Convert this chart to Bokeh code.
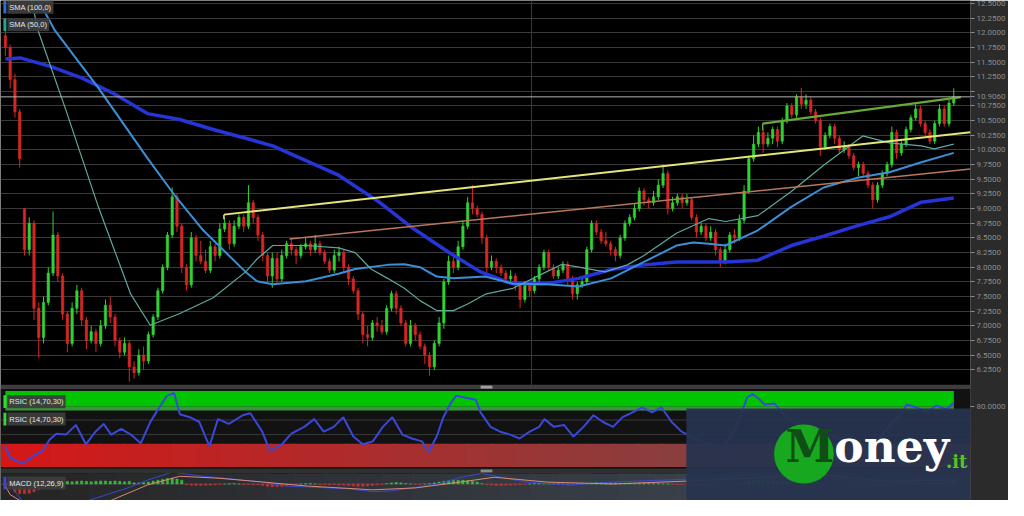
from bokeh.plotting import figure
from bokeh.models import Range1d, FixedTicker, NumeralTickFormatter, ColumnDataSource, BoxAnnotation, Label, Span
from bokeh.embed import file_html
from bokeh.resources import INLINE

# ---------------- data ----------------
opens = [11.95, 11.75, 11.2, 10.65, 9.0, 8.3, 8.75, 7.3, 6.8, 7.4,
         7.9, 8.55, 7.85, 7.2, 6.7, 7.3, 7.6, 7.1, 6.75, 6.9,
         6.7, 7.0, 7.35, 7.15, 6.75, 6.55, 6.7, 6.3, 6.2, 6.5,
         6.4, 6.85, 7.15, 7.6, 8.0, 8.55, 9.2, 8.7, 8.0, 7.7,
         8.5, 8.2, 8.1, 7.95, 8.35, 8.2, 8.65, 8.75, 8.4, 8.7,
         8.85, 8.7, 9.1, 8.85, 8.55, 8.2, 7.85, 8.15, 7.8, 8.2,
         8.4, 8.3, 8.2, 8.35, 8.4, 8.3, 8.4, 8.25, 8.1, 7.95,
         8.2, 8.25, 8.0, 7.8, 7.6, 7.2, 6.85, 6.8, 7.05, 7.0,
         6.9, 7.3, 7.55, 7.3, 7.05, 6.7, 7.0, 6.85, 6.65, 6.5,
         6.3, 6.7, 7.05, 7.75, 8.1, 8.0, 8.35, 8.7, 9.1, 9.0,
         8.9, 8.5, 8.0, 8.1, 8.0, 7.9, 7.8, 7.85, 7.7, 7.45,
         7.7, 7.6, 7.8, 8.0, 8.25, 8.0, 7.85, 7.95, 8.05, 7.8,
         7.55, 7.7, 7.75, 8.3, 8.75, 8.6, 8.45, 8.4, 8.3, 8.2,
         8.5, 8.75, 8.85, 9.0, 9.3, 9.15, 9.1, 9.2, 9.4, 9.6,
         9.0, 9.1, 9.2, 9.1, 9.15, 8.85, 8.6, 8.7, 8.5, 8.6,
         8.3, 8.1, 8.3, 8.55, 8.5, 8.8, 9.3, 9.85, 10.1, 10.3,
         10.1, 10.2, 10.35, 10.15, 10.5, 10.75, 10.6, 10.9, 10.78, 10.85,
         10.65, 10.5, 10.05, 10.25, 10.4, 10.2, 10.0, 10.05, 9.9, 9.7,
         9.75, 9.6, 9.4, 9.15, 9.4, 9.6, 9.75, 10.3, 9.95, 10.1,
         10.35, 10.55, 10.7, 10.45, 10.3, 10.15, 10.45, 10.7, 10.45, 10.8]
highs = [12.2, 11.8, 11.3, 10.7, 9.0, 8.85, 8.8, 7.4, 7.5, 8.0,
         8.95, 8.6, 7.9, 7.25, 7.4, 7.7, 7.65, 7.15, 7.0, 6.95,
         7.1, 7.45, 7.5, 7.2, 6.8, 6.8, 6.75, 6.4, 6.6, 6.65,
         6.9, 7.2, 7.65, 8.05, 8.6, 9.36, 9.25, 8.75, 8.05, 8.6,
         8.55, 8.45, 8.3, 8.45, 8.4, 8.75, 8.85, 8.8, 8.8, 8.9,
         8.9, 9.4, 9.15, 8.9, 8.6, 8.25, 8.25, 8.25, 8.3, 8.45,
         8.5, 8.35, 8.4, 8.5, 8.45, 8.55, 8.45, 8.3, 8.15, 8.3,
         8.35, 8.3, 8.05, 7.85, 7.65, 7.25, 7.0, 7.1, 7.15, 7.1,
         7.35, 7.6, 7.6, 7.35, 7.1, 7.1, 7.05, 6.9, 6.7, 6.55,
         6.75, 7.15, 7.8, 8.2, 8.2, 8.45, 8.8, 9.2, 9.4, 9.05,
         8.95, 8.55, 8.2, 8.15, 8.05, 7.95, 7.95, 7.9, 7.75, 7.75,
         7.75, 7.85, 8.05, 8.3, 8.3, 8.05, 8.0, 8.1, 8.1, 7.85,
         7.75, 7.8, 8.35, 8.8, 8.8, 8.65, 8.6, 8.45, 8.35, 8.55,
         8.8, 8.9, 9.08, 9.36, 9.35, 9.2, 9.3, 9.5, 9.75, 9.65,
         9.2, 9.25, 9.25, 9.25, 9.2, 8.9, 8.75, 8.75, 8.7, 8.65,
         8.35, 8.4, 8.6, 8.65, 8.9, 9.4, 9.9, 10.25, 10.4, 10.35,
         10.3, 10.4, 10.4, 10.55, 10.8, 10.8, 10.95, 11.06, 10.95, 10.9,
         10.7, 10.55, 10.3, 10.45, 10.45, 10.25, 10.15, 10.1, 9.95, 9.8,
         9.8, 9.65, 9.45, 9.45, 9.65, 9.8, 10.4, 10.35, 10.15, 10.4,
         10.6, 10.78, 10.75, 10.5, 10.35, 10.5, 10.78, 10.75, 10.85, 11.05]
lows = [11.6, 11.05, 10.55, 9.7, 8.2, 8.2, 7.1, 6.45, 6.7, 7.35,
        7.85, 7.75, 7.1, 6.55, 6.65, 7.2, 7.0, 6.6, 6.7, 6.55,
        6.65, 6.95, 7.05, 6.65, 6.45, 6.5, 6.05, 6.1, 6.15, 6.25,
        6.35, 6.8, 7.1, 7.55, 7.95, 8.5, 8.6, 7.9, 7.6, 7.65,
        8.1, 8.05, 7.9, 7.9, 8.1, 8.15, 8.6, 8.3, 8.35, 8.65,
        8.6, 8.65, 8.75, 8.45, 8.1, 7.75, 7.65, 7.7, 7.75, 8.15,
        8.2, 8.05, 8.15, 8.3, 8.2, 8.25, 8.2, 8.05, 7.9, 7.9,
        8.1, 7.9, 7.7, 7.55, 7.1, 6.7, 6.65, 6.75, 6.9, 6.85,
        6.85, 7.25, 7.2, 7.0, 6.65, 6.65, 6.75, 6.6, 6.35, 6.15,
        6.25, 6.65, 6.95, 7.7, 7.9, 7.95, 8.3, 8.65, 8.9, 8.85,
        8.4, 7.9, 7.95, 7.9, 7.85, 7.75, 7.75, 7.6, 7.3, 7.4,
        7.5, 7.55, 7.75, 7.95, 7.95, 7.8, 7.8, 7.9, 7.7, 7.45,
        7.45, 7.65, 7.7, 8.25, 8.55, 8.4, 8.35, 8.2, 8.1, 8.15,
        8.45, 8.7, 8.8, 8.95, 9.05, 9.0, 9.05, 9.15, 9.35, 8.9,
        8.95, 9.05, 9.0, 9.05, 8.8, 8.5, 8.55, 8.45, 8.45, 8.2,
        8.0, 8.05, 8.25, 8.4, 8.45, 8.75, 9.25, 9.8, 10.05, 9.95,
        10.05, 10.1, 10.05, 10.1, 10.45, 10.55, 10.55, 10.7, 10.7, 10.6,
        10.45, 9.9, 10.0, 10.2, 10.1, 9.95, 9.95, 9.85, 9.65, 9.55,
        9.55, 9.35, 9.0, 9.1, 9.35, 9.55, 9.7, 9.85, 9.9, 10.05,
        10.3, 10.5, 10.4, 10.25, 10.1, 10.1, 10.4, 10.4, 10.4, 10.75]
closes = [11.75, 11.2, 10.65, 9.85, 8.3, 8.75, 7.3, 6.8, 7.4, 7.9,
          8.55, 7.85, 7.2, 6.7, 7.3, 7.6, 7.1, 6.75, 6.9, 6.7,
          7.0, 7.35, 7.15, 6.75, 6.55, 6.7, 6.3, 6.2, 6.5, 6.4,
          6.85, 7.15, 7.6, 8.0, 8.55, 9.2, 8.7, 8.0, 7.7, 8.5,
          8.2, 8.1, 7.95, 8.35, 8.2, 8.65, 8.75, 8.4, 8.7, 8.85,
          8.7, 9.1, 8.85, 8.55, 8.2, 7.85, 8.15, 7.8, 8.2, 8.4,
          8.3, 8.2, 8.35, 8.4, 8.3, 8.4, 8.25, 8.1, 7.95, 8.2,
          8.25, 8.0, 7.8, 7.6, 7.2, 6.85, 6.8, 7.05, 7.0, 6.9,
          7.3, 7.55, 7.3, 7.05, 6.7, 7.0, 6.85, 6.65, 6.5, 6.3,
          6.7, 7.05, 7.75, 8.1, 8.0, 8.35, 8.7, 9.1, 9.0, 8.9,
          8.5, 8.0, 8.1, 8.0, 7.9, 7.8, 7.85, 7.7, 7.45, 7.7,
          7.6, 7.8, 8.0, 8.25, 8.0, 7.85, 7.95, 8.05, 7.8, 7.55,
          7.7, 7.75, 8.3, 8.75, 8.6, 8.45, 8.4, 8.3, 8.2, 8.5,
          8.75, 8.85, 9.0, 9.3, 9.15, 9.1, 9.2, 9.4, 9.6, 9.0,
          9.1, 9.2, 9.1, 9.15, 8.85, 8.6, 8.7, 8.5, 8.6, 8.3,
          8.1, 8.3, 8.55, 8.5, 8.8, 9.3, 9.85, 10.1, 10.3, 10.1,
          10.2, 10.35, 10.15, 10.5, 10.75, 10.6, 10.9, 10.78, 10.85, 10.65,
          10.5, 10.05, 10.25, 10.4, 10.2, 10.0, 10.05, 9.9, 9.7, 9.75,
          9.6, 9.4, 9.15, 9.4, 9.6, 9.75, 10.3, 9.95, 10.1, 10.35,
          10.55, 10.7, 10.45, 10.3, 10.15, 10.45, 10.7, 10.45, 10.8, 10.91]

# moving averages (candle position, price)
sma_slow_x = [0, 3.1, 9.25, 16.0, 23.0, 29.8, 36.6, 43.6, 50.4, 56.1, 69.9, 78.1, 84.9, 93.1, 99.7,
              106.3, 113.5, 120.3, 127.1, 134.0, 140.8, 151.1, 157.9, 164.9, 171.7, 178.5, 185.5, 192.2, 199.0]
sma_slow_y = [11.55, 11.57, 11.43, 11.23, 10.95, 10.62, 10.52, 10.35, 10.20, 10.07, 9.57, 9.13, 8.70, 8.25, 7.92,
              7.72, 7.72, 7.81, 7.96, 8.04, 8.09, 8.09, 8.12, 8.37, 8.53, 8.70, 8.86, 9.11, 9.18]
sma_mid_x = [6.6, 10.3, 19.5, 29.8, 35.4, 41.5, 50.4, 52.8, 56.1, 63.1, 69.9, 73.4, 80.2, 83.7, 87.0, 90.5,
             94.0, 100.7, 106.5, 113.5, 120.3, 127.1, 134.0, 140.8, 144.3, 147.6, 151.1, 157.9, 164.9, 171.7,
             178.5, 185.5, 192.2, 199.0]
sma_mid_y = [12.6, 12.05, 11.06, 9.86, 9.24, 8.63, 7.92, 7.76, 7.71, 7.76, 7.89, 7.97, 8.04, 8.05, 8.00, 7.84,
             7.81, 7.84, 7.72, 7.71, 7.67, 7.81, 8.09, 8.37, 8.42, 8.40, 8.37, 8.63, 9.03, 9.36,
             9.52, 9.62, 9.79, 9.95]
sma_fast_x = [5.1, 6.8, 12.7, 19.5, 26.3, 30.4, 36.6, 43.6, 50.4, 52.8, 56.1, 63.1, 69.9, 73.4, 76.7, 80.2,
              83.7, 87.0, 90.5, 94.0, 97.2, 100.7, 106.5, 113.5, 116.8, 120.3, 125.8, 130.5, 134.0, 140.8,
              147.6, 151.1, 157.9, 164.9, 171.7, 179.9, 185.5, 192.2, 194.9, 199.0]
sma_fast_y = [12.71, 12.05, 10.68, 9.03, 7.54, 7.01, 7.21, 7.48, 7.92, 8.14, 8.37, 8.37, 8.33, 8.25, 7.97, 7.81,
              7.64, 7.43, 7.26, 7.26, 7.38, 7.54, 7.64, 7.92, 8.05, 8.00, 7.92, 8.04, 8.20, 8.58,
              8.83, 8.78, 8.88, 9.29, 9.74, 10.24, 10.12, 10.07, 10.02, 10.10]

# trend lines
yellow_x, yellow_y = [45.85, 202.5], [8.897, 10.302]
salmon_x, salmon_y = [59.6, 202.5], [8.483, 9.674]
green_x, green_y = [158.9, 200.5], [10.45, 10.90]
current_price = 10.906
price_ticks = [6.25, 6.5, 6.75, 7.0, 7.25, 7.5, 7.75, 8.0, 8.25, 8.5, 8.75, 9.0, 9.25, 9.5, 9.75,
               10.0, 10.25, 10.5, 10.75, 11.0, 11.25, 11.5, 11.75, 12.0, 12.25, 12.5]

# RSI (candle position, value)
rsi_x = [0, 1.0, 3.7, 5.8, 7.8, 9.3, 10.7, 12.7, 14.8, 16.9, 18.9, 20.6, 22.2, 24.3, 26.3, 28.4, 30.4, 31.9,
         33.9, 35.4, 36.6, 38.7, 40.7, 42.8, 44.6, 46.9, 49.8, 51.4, 53.9, 55.5, 58.0, 60.0, 62.7, 64.8, 66.8,
         68.9, 70.9, 73.0, 75.0, 77.1, 79.2, 81.2, 83.3, 85.3, 87.4, 88.8, 90.5, 91.9, 93.5, 94.6, 96.6, 98.7,
         99.7, 101.8, 103.8, 105.9, 107.9, 110.0, 112.0, 113.1, 115.1, 117.2, 119.2, 121.3, 123.4, 125.4, 127.5,
         129.5, 131.6, 133.6, 135.7, 137.7, 139.8, 141.9, 143.9, 146.0, 148.0, 150.1, 152.1, 154.2, 155.6,
         156.8, 158.3, 159.3, 161.4, 163.4, 165.5, 167.6, 170.6, 173.7, 176.8, 179.9, 182.0, 184.0, 186.1,
         188.2, 189.1, 191.2, 193.3, 195.3, 197.4, 199.0]
rsi_val = [28.75, 13.75, 6.25, 16.25, 22.5, 37.5, 45, 43.75, 56.25, 31.25, 47.5, 57.5, 43.75, 51.25, 43.75, 32.5,
           60, 75, 93.75, 97.5, 70, 66.25, 60, 28.75, 63.75, 57.5, 68.75, 71.25, 47.5, 22.5, 31.25, 45, 53.75,
           63.75, 47.5, 53.75, 66.25, 41.25, 31.25, 35, 53.75, 66.25, 43.75, 38.75, 35, 21.25, 41.25, 66.25, 85,
           93.75, 91.25, 88.75, 72.5, 53.75, 47.5, 43.75, 38.75, 47.5, 53.75, 63.75, 53.75, 56.25, 41.25, 53.75,
           68.75, 60, 53.75, 66.25, 72.5, 78.75, 72.5, 78.75, 60, 47.5, 41.25, 35, 31.25, 26.25, 38.75, 66.25,
           91.25, 96.25, 88.75, 82.5, 83.75, 68.75, 60, 53.75, 47.5, 41.25, 35, 31.25, 26.25, 43.75, 60, 72.5,
           82.5, 78.75, 72.5, 81.25, 76.25, 85]
rsi_upper, rsi_top, rsi_lower, rsi_bottom = 80, 100, 32, 2
rsi_tick_label = "80.0000"

# MACD (12,26,9)
macd_hist = [-0.05, -0.12,
             -0.20, -0.25, -0.25, -0.24, -0.20, -0.15,
             -0.06, 0.0, 0.04,
             0.06, 0.07, 0.07, 0.06, 0.07, 0.08, 0.07, 0.06, 0.07, 0.08, 0.08, 0.07, 0.08, 0.07, 0.06, 0.07,
             0.03, 0.03, 0.04, 0.05,
             0.08, 0.10, 0.12, 0.14, 0.15, 0.13, 0.10,
             -0.02, -0.03, -0.04, -0.04, -0.03, -0.03, -0.02,
             -0.01, 0.0, 0.01, 0.01, 0.0, -0.01, -0.01, -0.02, -0.02,
             -0.04, -0.06, -0.07, -0.07, -0.06, -0.04,
             -0.02, -0.01, 0.0, 0.01, 0.01, 0.0, -0.01, -0.01, -0.02, -0.02, -0.03, -0.03,
             -0.04, -0.05, -0.06, -0.06, -0.05, -0.04,
             -0.02, -0.01, 0.01,
             0.03, 0.04, 0.03,
             0.01, 0.0, -0.01, -0.01, 0.0, 0.01,
             0.03, 0.05, 0.07, 0.08, 0.09, 0.10, 0.10, 0.09, 0.07, 0.05,
             0.01, -0.02, -0.03, -0.04, -0.04, -0.03, -0.03, -0.02, -0.02,
             -0.01, 0.0, 0.01, 0.02, 0.02, 0.02, 0.01,
             0.01, 0.0, 0.0, -0.01, 0.0, 0.01,
             0.02, 0.03, 0.04, 0.04, 0.03, 0.03, 0.03, 0.02, 0.02, 0.02,
             0.01, 0.02, 0.02, 0.02, 0.01, 0.01, 0.0, 0.0, -0.01, -0.01, -0.01,
             -0.02, -0.03, -0.04, -0.05, -0.05, -0.06, -0.06, -0.05, -0.04, -0.03, -0.01,
             0.02, 0.05, 0.08, 0.10, 0.11, 0.10, 0.09, 0.08, 0.07, 0.06, 0.06, 0.05, 0.05, 0.04, 0.03, 0.02, 0.01,
             -0.01, -0.02, -0.03, -0.04, -0.04, -0.05, -0.05, -0.06, -0.06, -0.06, -0.05, -0.05, -0.04, -0.02, -0.01,
             0.01, 0.01, 0.02, 0.03, 0.04, 0.04, 0.03, 0.02, 0.02, 0.03, 0.04, 0.04, 0.05, 0.05]
macd_x = [0.4, 3.5, 7.2, 11.3, 17.3, 25.7, 29.8, 34.7, 35.6, 40.1, 54.1, 58.6, 72.4, 77.1, 81.2, 90.7, 95.6,
          99.9, 109.2, 118.2, 127.5, 142.9, 155.2, 163.4, 175.8, 184.0, 192.2, 199.0]
macd_v = [0.05, -0.43, -0.8, -0.9, -0.43, -0.1, 0.1, 0.3, 0.3, 0.22, 0.05, -0.05, -0.125, -0.2, -0.175, 0.0,
          0.175, 0.275, 0.05, -0.025, 0.05, 0.125, 0.225, 0.275, 0.1, -0.025, 0.125, 0.175]
signal_x = [0, 1.0, 4.1, 11.3, 22.0, 29.8, 36.6, 44.8, 54.1, 63.1, 77.1, 86.1, 95.4, 102.6, 113.7, 127.5,
            142.9, 159.3, 171.7, 184.0, 199.0]
signal_v = [-0.05, -0.275, -0.5, -0.7, -0.43, -0.025, 0.2, 0.15, 0.05, -0.05, -0.15, -0.1, 0.05, 0.175, 0.05,
            0.0, 0.075, 0.175, 0.225, 0.075, 0.1]

# ---------------- layout helpers (reference pixel geometry -> data units) ----------------
CANDLE_PX, FIRST_PX = 4.864, 5.0
TOP_PRICE, TOP_PX, PX_PER_UNIT = 12.5, 3.0, 60.5
RSI_ZERO_PX, RSI_PX = 483.0, 0.8
MACD_ZERO_PX, MACD_PX = 499.0, 40.0


def ix(px):
    return (px - FIRST_PX) / CANDLE_PX


def py(px):
    return TOP_PRICE - (px - TOP_PX) / PX_PER_UNIT


def ry(px):
    return (RSI_ZERO_PX - px) / RSI_PX


def my(px):
    return (MACD_ZERO_PX - px) / MACD_PX


def mix(c0, c1, t):
    a = [int(c0[i:i + 2], 16) for i in (1, 3, 5)]
    b = [int(c1[i:i + 2], 16) for i in (1, 3, 5)]
    return "#" + "".join("%02x" % round(a[k] + (b[k] - a[k]) * t) for k in range(3))


p = figure(width=1008, height=500, output_backend="svg", toolbar_location=None,
           x_range=Range1d(ix(0), ix(990)), y_range=Range1d(py(516), py(0)),
           x_axis_location=None, y_axis_location="right",
           background_fill_color="#000000", border_fill_color="#2b2b2b",
           min_border_left=0, min_border_top=0, min_border_bottom=0, min_border_right=0,
           outline_line_color=None)
p.extra_y_ranges = {"rsi": Range1d(ry(516), ry(0)), "macd": Range1d(my(516), my(0))}

# right price axis (also carries the last-price tag and the RSI 80 level, as the trading screen does)
rsi_tick_pos = 5.624          # price-axis position of the RSI 80 level
axis_ticks = price_ticks + [current_price, rsi_tick_pos]
ax = p.yaxis[0]
ax.ticker = FixedTicker(ticks=axis_ticks)
ax.formatter = NumeralTickFormatter(format="0.0000")
ax.major_label_overrides = {current_price: "10.9060", rsi_tick_pos: rsi_tick_label, 11.0: ""}
ax.major_label_text_color = "#8c8c8c"
ax.major_label_text_font = "Roboto"
ax.major_label_text_font_size = "8px"
ax.axis_line_color = None
ax.major_tick_line_color = "#8c8c8c"
ax.major_tick_out = 4
ax.major_tick_in = 0
ax.minor_tick_line_color = None
ax.major_label_standoff = 2
p.ygrid.ticker = FixedTicker(ticks=price_ticks)
p.ygrid.grid_line_color = "#3a3a3a"
p.xgrid.visible = False

# vertical grid line in the price panel
p.segment(x0=[110.4], y0=[py(0)], x1=[110.4], y1=[py(397)], line_color="#3a3a3a", line_width=1)

# ---- RSI panel background pieces ----
p.add_layout(BoxAnnotation(top=py(401), bottom=py(483), fill_color="#121212", fill_alpha=1,
                           line_color=None, level="underlay"))
p.add_layout(BoxAnnotation(left=ix(5), right=ix(973), bottom=rsi_upper, top=rsi_top, y_range_name="rsi",
                           fill_color="#00c400", fill_alpha=1, line_color=None, level="underlay"))
p.add_layout(BoxAnnotation(left=ix(5), right=ix(973), bottom=rsi_upper - 5, top=rsi_upper, y_range_name="rsi",
                           fill_color="#47c447", fill_alpha=0.75, line_color=None, level="underlay"))
N_RED = 28
for k in range(N_RED):
    t = k / (N_RED - 1)
    right_px = 990 if k == N_RED - 1 else (k + 1) * 25 + 2
    p.add_layout(BoxAnnotation(left=ix(k * 25), right=ix(right_px), bottom=rsi_bottom, top=rsi_lower,
                               y_range_name="rsi", fill_color=mix("#d41818", "#8a3e3e", t), fill_alpha=1,
                               line_color=None, level="underlay"))
for lv in (43.75, 62.5):
    p.line([ix(0), ix(990)], [lv, lv], y_range_name="rsi", line_color="#3a3a3a", line_width=1)

# ---- MACD panel background ----
N_BG = 24
for k in range(N_BG):
    t = k / (N_BG - 1)
    right_px = 990 if k == N_BG - 1 else (k + 1) * 30 + 2
    p.add_layout(BoxAnnotation(left=ix(k * 30), right=ix(right_px), top=py(488),
                               fill_color=mix("#252525", "#39404b", t), fill_alpha=1,
                               line_color=None, level="underlay"))
p.line([ix(0), ix(990)], [0, 0], y_range_name="macd", line_color="#4a4a4a", line_width=1)

# ---- candles ----
n = len(closes)
xs = list(range(n))
cols = ["#31d231" if c >= o else "#d62626" for o, c in zip(opens, closes)]
src = ColumnDataSource(dict(x=xs, h=highs, l=lows,
                            top=[max(o, c) for o, c in zip(opens, closes)],
                            bot=[min(o, c) for o, c in zip(opens, closes)], col=cols))
p.segment(x0="x", y0="h", x1="x", y1="l", source=src, line_color="col", line_width=1)
p.vbar(x="x", top="top", bottom="bot", width=0.5, source=src, fill_color="col", line_color="col", line_width=0.6)

# ---- moving averages ----
p.line(sma_slow_x, sma_slow_y, line_color="#2535d8", line_width=3.5)
p.line(sma_mid_x, sma_mid_y, line_color="#3a8fd6", line_width=2)
p.line(sma_fast_x, sma_fast_y, line_color="#5fa8a0", line_width=1.2)

# ---- trend lines ----
p.line(salmon_x, salmon_y, line_color="#b9785a", line_width=1.5)
p.line(yellow_x, yellow_y, line_color="#e5e57a", line_width=2)
p.line(green_x, green_y, line_color="#66a83a", line_width=2.2)
p.segment(x0=[yellow_x[0]], y0=[yellow_y[0]], x1=[yellow_x[0]], y1=[yellow_y[0] - 0.08],
          line_color="#e5e57a", line_width=1.5)
p.segment(x0=[green_x[0]], y0=[green_y[0]], x1=[green_x[0]], y1=[green_y[0] - 0.12],
          line_color="#66a83a", line_width=1.5)
p.add_layout(Span(location=current_price, dimension="width", line_color="#b5b5b5", line_width=1))

# ---- RSI line ----
p.line(rsi_x, rsi_val, y_range_name="rsi", line_color="#3a48d8", line_width=2)

# ---- MACD ----
hist_cols = ["#3cc83c" if v >= 0 else "#d03434" for v in macd_hist]
p.vbar(x=xs, top=macd_hist, bottom=0, width=0.5, y_range_name="macd", fill_color=hist_cols,
       line_color=hist_cols, line_width=0.5, fill_alpha=0.85, line_alpha=0.85)
p.line(macd_x, macd_v, y_range_name="macd", line_color="#3848d0", line_width=1)
p.line(signal_x, signal_v, y_range_name="macd", line_color="#d88a78", line_width=1)

# ---- panel separators ----
p.add_layout(BoxAnnotation(top=py(396.5), bottom=py(401), fill_color="#3d3d3d", fill_alpha=1, line_color=None))
p.add_layout(BoxAnnotation(left=ix(490), right=ix(502), top=py(397.5), bottom=py(400.5),
                           fill_color="#a0a0a0", fill_alpha=1, line_color=None))
p.add_layout(BoxAnnotation(top=py(483), bottom=py(488), fill_color="#303030", fill_alpha=1, line_color=None))
p.add_layout(BoxAnnotation(left=ix(490), right=ix(502), top=py(484), bottom=py(487),
                           fill_color="#8a8a8a", fill_alpha=1, line_color=None))


# ---- indicator tags ----
def tag(text, y_px, stripe):
    p.add_layout(BoxAnnotation(left=ix(3), right=ix(6), top=py(y_px - 6.5), bottom=py(y_px + 6.5),
                               fill_color=stripe, fill_alpha=1, line_color=None))
    p.add_layout(Label(x=ix(7), y=py(y_px), text=text, text_baseline="middle", text_font="Liberation Sans",
                       text_font_size="7.5px", text_color="#e6e6e6", background_fill_color="#3c3c3c",
                       background_fill_alpha=0.95, padding=2))


tag("SMA (100,0)", 7, "#2f6fd0")
tag("SMA (50,0)", 25, "#2aa58a")
tag("RSIC (14,70,30)", 414, "#3ad43a")
tag("RSIC (14,70,30)", 432, "#3ad43a")
tag("MACD (12,26,9)", 498, "#3848d0")

# ---- Money.it logo overlay ----
p.add_layout(BoxAnnotation(left=ix(700), top=py(421), fill_color="#27344e", fill_alpha=0.95, line_color=None))
p.add_layout(BoxAnnotation(left=ix(789.5), right=ix(850.5), top=py(437.5), bottom=py(498.5), border_radius=30,
                           fill_color="#17a81f", fill_alpha=1, line_color=None))
p.add_layout(Label(x=ix(826), y=py(487), text="M", text_align="center",
                   text_font="DejaVu Serif", text_font_style="bold", text_font_size="44px",
                   text_color="#114d16"))
p.add_layout(Label(x=ix(851), y=py(487), text="oney", text_font="DejaVu Serif",
                   text_font_style="bold", text_font_size="44px", text_color="#ffffff"))
p.add_layout(Label(x=ix(965), y=py(487), text=".it", text_font="DejaVu Serif",
                   text_font_style="bold", text_font_size="18px", text_color="#55c520"))

open("out.html", "w").write(file_html(p, INLINE))
